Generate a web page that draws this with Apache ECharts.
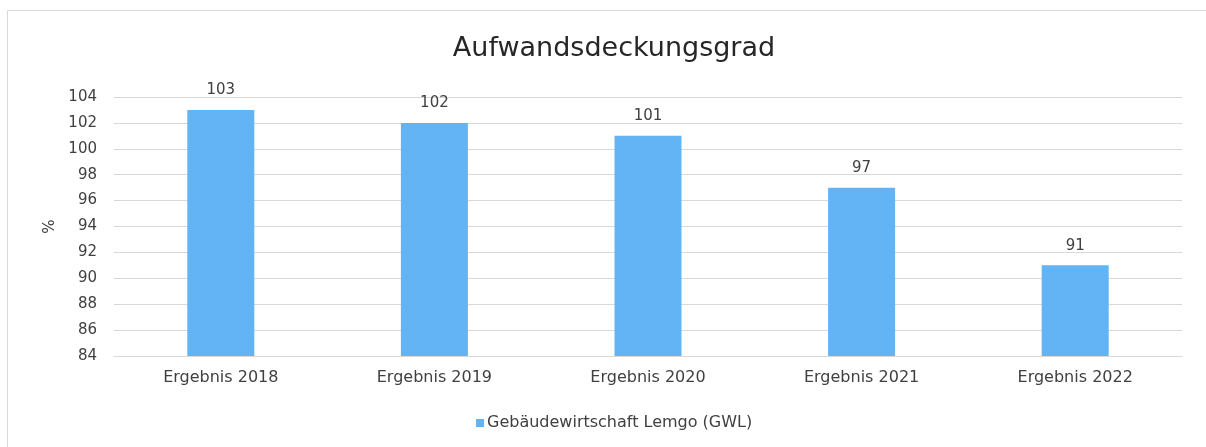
<!DOCTYPE html>
<html>
<head>
<meta charset="utf-8">
<script src="https://cdn.jsdelivr.net/npm/echarts@6/dist/echarts.min.js"></script>
<style>
	html, body { margin: 0; padding: 0; background: #fff; }
	#chart { width: 1206px; height: 447px; }
</style>
</head>
<body>
<div id="chart"></div>
<script>
	var categories = ['Ergebnis 2018', 'Ergebnis 2019', 'Ergebnis 2020', 'Ergebnis 2021', 'Ergebnis 2022'];
	var values = [103, 102, 101, 97, 91];
	var seriesName = 'Gebäudewirtschaft Lemgo (GWL)';

	var font = 'DejaVu Sans';
	var myChart = echarts.init(document.getElementById('chart'));

	var option = {
		backgroundColor: '#fff',
		textStyle: { fontFamily: font },
		graphic: [{
			type: 'rect',
			shape: { x: 7.5, y: 10.5, width: 1206, height: 440 },
			style: { fill: 'none', stroke: '#d9d9d9', lineWidth: 1 },
			silent: true
		}],
		title: {
			text: 'Aufwandsdeckungsgrad',
			left: 609,
			textAlign: 'center',
			top: 30,
			textStyle: { fontFamily: font, fontSize: 27, fontWeight: 'normal', color: '#262626' }
		},
		legend: {
			data: [seriesName],
			left: 471,
			bottom: 11,
			itemWidth: 8,
			itemHeight: 8,
			itemGap: 4,
			icon: 'rect',
			textStyle: { fontFamily: font, fontSize: 16, color: '#404040', padding: [0, 0, 0, -2] }
		},
		grid: {
			left: 114,
			right: 24,
			top: 97,
			bottom: 91
		},
		xAxis: {
			type: 'category',
			data: categories,
			axisLine: { lineStyle: { color: '#d9d9d9', width: 1 } },
			axisTick: { show: false },
			axisLabel: { fontFamily: font, fontSize: 16, color: '#404040', margin: 14 }
		},
		yAxis: {
			type: 'value',
			min: 84,
			max: 104,
			interval: 2,
			name: '%',
			nameLocation: 'middle',
			nameGap: 54,
			nameRotate: 90,
			nameTextStyle: { fontFamily: font, fontSize: 15, color: '#404040' },
			axisLine: { show: false },
			axisTick: { show: false },
			axisLabel: { fontFamily: font, fontSize: 15, color: '#404040', margin: 17 },
			splitLine: { lineStyle: { color: '#d9d9d9', width: 1 } }
		},
		series: [{
			name: seriesName,
			type: 'bar',
			data: values,
			barWidth: 67,
			itemStyle: { color: '#63b4f5' },
			label: {
				show: true,
				position: 'top',
				distance: 12,
				fontFamily: font,
				fontSize: 15,
				color: '#404040'
			}
		}]
	};
	myChart.setOption(option);
</script>
</body>
</html>
